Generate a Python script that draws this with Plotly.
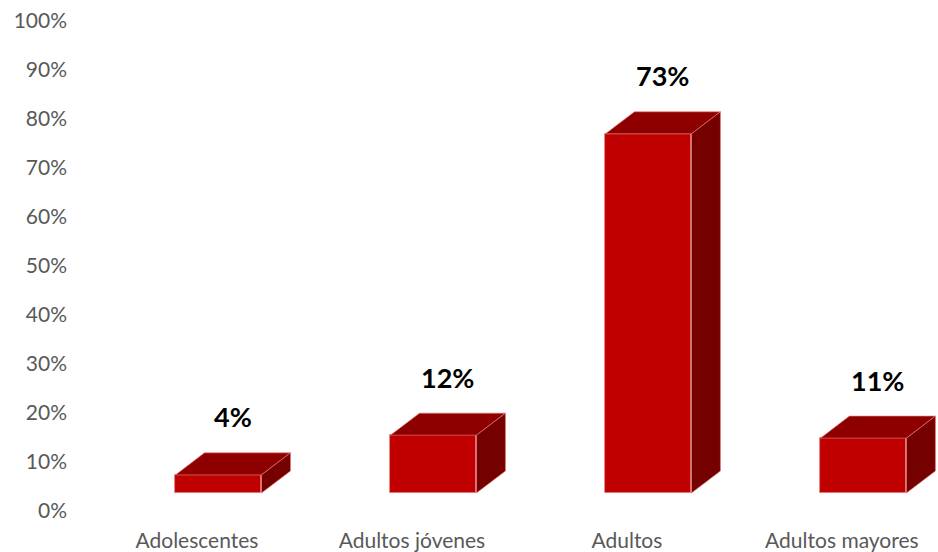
import plotly.graph_objects as go

categories = ["Adolescentes", "Adultos jóvenes", "Adultos", "Adultos mayores"]
values = [0.037, 0.118, 0.733, 0.112]
y_ticks = [0, 0.1, 0.2, 0.3, 0.4, 0.5, 0.6, 0.7, 0.8, 0.9, 1.0]
y_tick_labels = ["0%", "10%", "20%", "30%", "40%", "50%", "60%", "70%", "80%", "90%", "100%"]

# 3D-look geometry (in axis units)
SHIFT = 0.1      # front face offset from category position
WIDTH = 0.4      # front face width
DX = 0.135       # depth in x
DY = 0.045       # depth in y
BASE = 0.0367    # front face base

FRONT = "#C00000"
TOP = "#8E0000"
SIDE = "#740000"
EDGE = "rgba(230,120,120,0.8)"

xs = list(range(len(categories)))
fig = go.Figure()
fig.add_trace(go.Bar(
    x=[i + SHIFT for i in xs], y=values, base=[BASE] * len(values), width=WIDTH,
    marker=dict(color=FRONT, line=dict(color=EDGE, width=0.8)),
    hoverinfo="skip", showlegend=False,
))

shapes = []
annotations = []
for i, v in zip(xs, values):
    x0 = i + SHIFT - WIDTH / 2
    x1 = i + SHIFT + WIDTH / 2
    yt = BASE + v
    yb = BASE
    top = f"M {x0} {yt} L {x0+DX} {yt+DY} L {x1+DX} {yt+DY} L {x1} {yt} Z"
    side = f"M {x1} {yb} L {x1} {yt} L {x1+DX} {yt+DY} L {x1+DX} {yb+DY} Z"
    shapes.append(dict(type="path", path=top, xref="x", yref="y", fillcolor=TOP,
                       line=dict(color=EDGE, width=0.8), layer="above"))
    shapes.append(dict(type="path", path=side, xref="x", yref="y", fillcolor=SIDE,
                       line=dict(color=EDGE, width=0.8), layer="above"))
    annotations.append(dict(x=(x0 + x1 + DX) / 2, y=yt + DY, xref="x", yref="y",
                            text=f"{v:.0%}", showarrow=False, yshift=36,
                            font=dict(family="Lato", size=27, color="#000000", weight="bold")))

fig.update_layout(
    width=938, height=552,
    margin=dict(l=80, r=0, t=21, b=41),
    plot_bgcolor="white", paper_bgcolor="white",
    shapes=shapes, annotations=annotations,
    bargap=0,
    xaxis=dict(range=[-0.544, 3.447], tickmode="array", tickvals=xs, ticktext=categories,
               showgrid=False, zeroline=False, showline=False, ticks="",
               tickfont=dict(family="Lato", size=21, color="#595959"),
               ticklabelstandoff=15),
    yaxis=dict(range=[0, 1.0], tickmode="array", tickvals=y_ticks, ticktext=y_tick_labels,
               showgrid=False, zeroline=False, showline=False, ticks="",
               tickfont=dict(family="Lato", size=21, color="#595959"),
               ticklabelstandoff=12),
)
fig.write_html("out.html", config={"displayModeBar": False},
               post_script="document.body.style.margin='0';document.body.style.overflow='hidden';")
